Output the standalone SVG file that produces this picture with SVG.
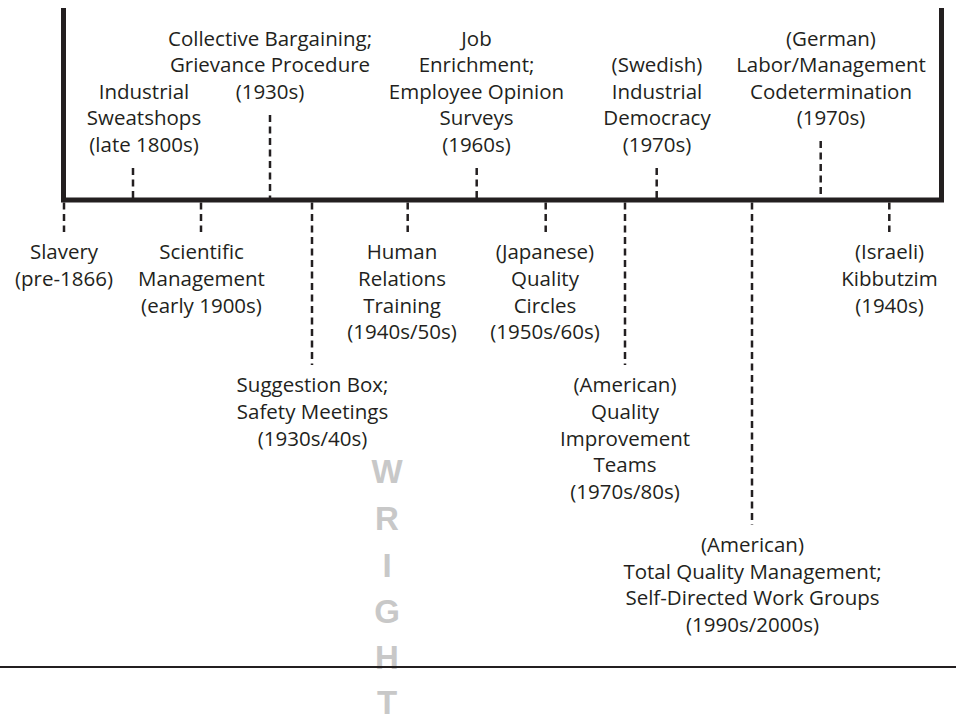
<svg xmlns="http://www.w3.org/2000/svg" width="956" height="717" viewBox="0 0 956 717">
  <style>
    .lbl { font-family: "Open Sans", "Noto Sans", "Liberation Sans", sans-serif; font-size: 20.5px; fill: #231f20; text-anchor: middle; }
    .tick { stroke: #231f20; stroke-width: 2.5; stroke-dasharray: 7 4.5; fill: none; }
    .frame { stroke: #231f20; stroke-width: 5; fill: none; stroke-linejoin: miter; }
    .rule { stroke: #231f20; stroke-width: 2.2; }
    .mark { font-family: "Liberation Sans", Arial, sans-serif; font-weight: bold; font-size: 33px; fill: #c8c8c8; text-anchor: middle; }
  </style>

  <rect width="956" height="717" fill="#ffffff"/>

  <!-- timeline frame: left post, baseline axis, right post -->
  <g id="axis">
    <path class="frame" d="M63.5 8 V200 H941.5 V8"/>
  </g>

  <!-- dashed leaders from the axis to each label -->
  <g id="connectors">
    <!-- above the axis -->
    <line class="tick" x1="133" y1="168" x2="133" y2="198"/>
    <line class="tick" x1="270" y1="115" x2="270" y2="198"/>
    <line class="tick" x1="476.7" y1="168" x2="476.7" y2="198"/>
    <line class="tick" x1="656.7" y1="168" x2="656.7" y2="198"/>
    <line class="tick" x1="820.7" y1="141" x2="820.7" y2="198"/>
    <!-- below the axis -->
    <line class="tick" x1="64" y1="202.5" x2="64" y2="232"/>
    <line class="tick" x1="201" y1="202.5" x2="201" y2="232"/>
    <line class="tick" x1="312" y1="202.5" x2="312" y2="365"/>
    <line class="tick" x1="407.7" y1="202.5" x2="407.7" y2="232"/>
    <line class="tick" x1="545.7" y1="202.5" x2="545.7" y2="232"/>
    <line class="tick" x1="625" y1="202.5" x2="625" y2="365"/>
    <line class="tick" x1="752" y1="202.5" x2="752" y2="525"/>
    <line class="tick" x1="889.3" y1="202.5" x2="889.3" y2="232"/>
  </g>

  <!-- labels above the axis -->
  <g id="sweatshops">
    <text class="lbl" x="144" y="98.7">Industrial</text>
    <text class="lbl" x="144" y="125.3">Sweatshops</text>
    <text class="lbl" x="144" y="151.9">(late 1800s)</text>
  </g>
  <g id="collective-bargaining">
    <text class="lbl" x="270" y="45.5">Collective Bargaining;</text>
    <text class="lbl" x="270" y="72.1">Grievance Procedure</text>
    <text class="lbl" x="270" y="98.7">(1930s)</text>
  </g>
  <g id="job-enrichment">
    <text class="lbl" x="476.5" y="45.5">Job</text>
    <text class="lbl" x="476.5" y="72.1">Enrichment;</text>
    <text class="lbl" x="476.5" y="98.7">Employee Opinion</text>
    <text class="lbl" x="476.5" y="125.3">Surveys</text>
    <text class="lbl" x="476.5" y="151.9">(1960s)</text>
  </g>
  <g id="swedish-democracy">
    <text class="lbl" x="657" y="72.1">(Swedish)</text>
    <text class="lbl" x="657" y="98.7">Industrial</text>
    <text class="lbl" x="657" y="125.3">Democracy</text>
    <text class="lbl" x="657" y="151.9">(1970s)</text>
  </g>
  <g id="german-codetermination">
    <text class="lbl" x="831" y="45.5">(German)</text>
    <text class="lbl" x="831" y="72.1">Labor/Management</text>
    <text class="lbl" x="831" y="98.7">Codetermination</text>
    <text class="lbl" x="831" y="125.3">(1970s)</text>
  </g>

  <!-- labels below the axis -->
  <g id="slavery">
    <text class="lbl" x="64" y="259.3">Slavery</text>
    <text class="lbl" x="64" y="285.9">(pre-1866)</text>
  </g>
  <g id="scientific-management">
    <text class="lbl" x="201.5" y="259.3">Scientific</text>
    <text class="lbl" x="201.5" y="285.9">Management</text>
    <text class="lbl" x="201.5" y="312.5">(early 1900s)</text>
  </g>
  <g id="human-relations">
    <text class="lbl" x="402" y="259.3">Human</text>
    <text class="lbl" x="402" y="285.9">Relations</text>
    <text class="lbl" x="402" y="312.5">Training</text>
    <text class="lbl" x="402" y="339.1">(1940s/50s)</text>
  </g>
  <g id="quality-circles">
    <text class="lbl" x="545" y="259.3">(Japanese)</text>
    <text class="lbl" x="545" y="285.9">Quality</text>
    <text class="lbl" x="545" y="312.5">Circles</text>
    <text class="lbl" x="545" y="339.1">(1950s/60s)</text>
  </g>
  <g id="kibbutzim">
    <text class="lbl" x="889.5" y="259.3">(Israeli)</text>
    <text class="lbl" x="889.5" y="285.9">Kibbutzim</text>
    <text class="lbl" x="889.5" y="312.5">(1940s)</text>
  </g>
  <g id="suggestion-box">
    <text class="lbl" x="312.5" y="392.3">Suggestion Box;</text>
    <text class="lbl" x="312.5" y="418.9">Safety Meetings</text>
    <text class="lbl" x="312.5" y="445.5">(1930s/40s)</text>
  </g>
  <g id="quality-improvement-teams">
    <text class="lbl" x="625" y="392.3">(American)</text>
    <text class="lbl" x="625" y="418.9">Quality</text>
    <text class="lbl" x="625" y="445.5">Improvement</text>
    <text class="lbl" x="625" y="472.1">Teams</text>
    <text class="lbl" x="625" y="498.7">(1970s/80s)</text>
  </g>
  <g id="total-quality-management">
    <text class="lbl" x="752.5" y="551.9">(American)</text>
    <text class="lbl" x="752.5" y="578.5">Total Quality Management;</text>
    <text class="lbl" x="752.5" y="605.1">Self-Directed Work Groups</text>
    <text class="lbl" x="752.5" y="631.7">(1990s/2000s)</text>
  </g>

  <!-- vertical grey lettering -->
  <g id="watermark">
    <text class="mark" x="387" y="483">W</text>
    <text class="mark" x="387" y="530">R</text>
    <text class="mark" x="387" y="577">I</text>
    <text class="mark" x="387" y="623">G</text>
    <text class="mark" x="387" y="669">H</text>
    <text class="mark" x="387" y="714">T</text>
  </g>

  <!-- closing rule across the page -->
  <line class="rule" x1="0" y1="667" x2="956" y2="667"/>
</svg>
